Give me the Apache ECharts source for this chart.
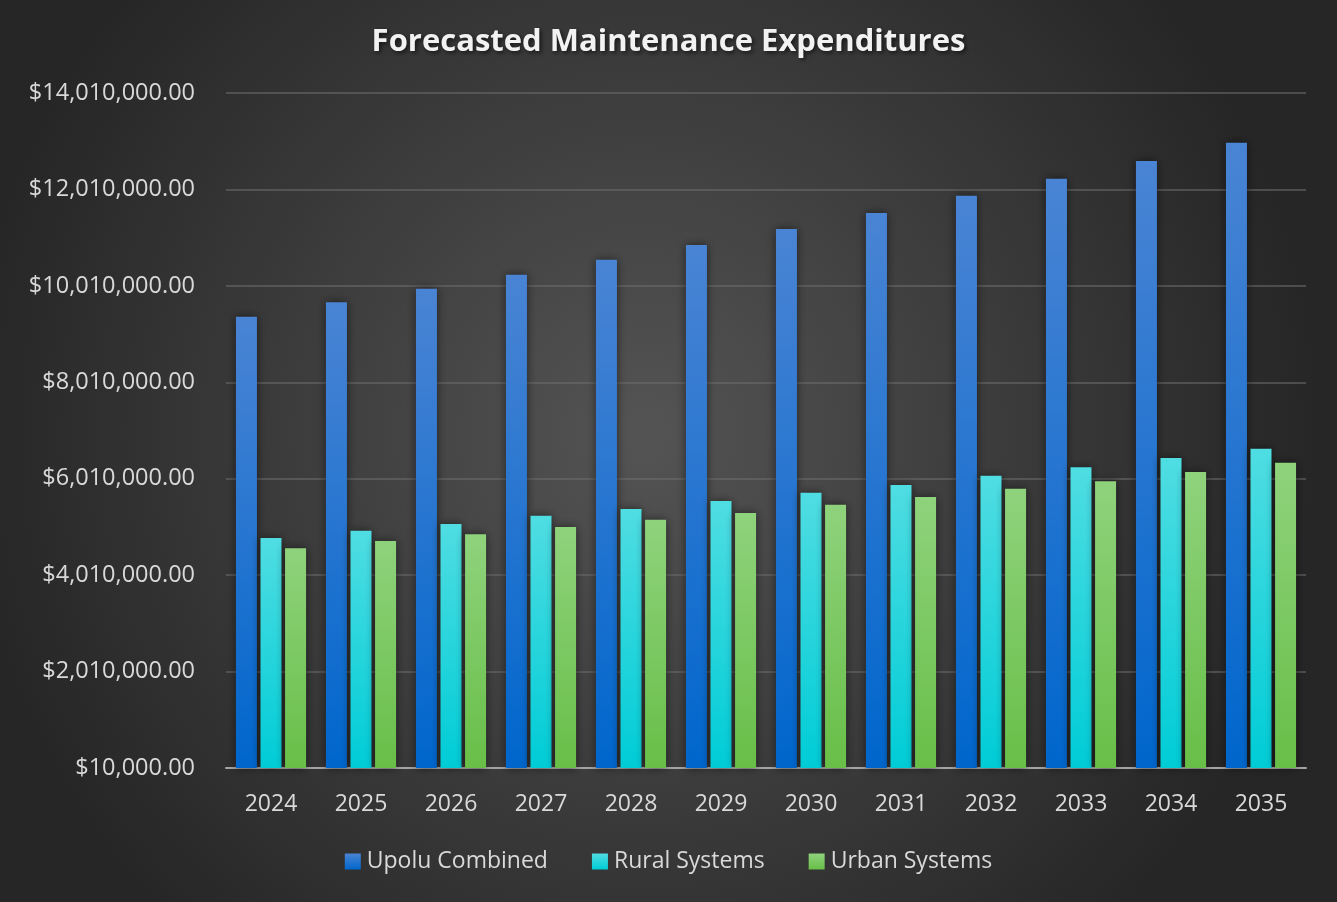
<!DOCTYPE html>
<html>
<head>
<meta charset="utf-8">
<script src="https://cdn.jsdelivr.net/npm/echarts@6/dist/echarts.min.js"></script>
<style>
html,body{margin:0;padding:0;background:#2a2a2a;}
#chart{width:1337px;height:902px;}
</style>
</head>
<body>
<div id="chart"></div>
<script>
const categories = ['2024','2025','2026','2027','2028','2029','2030','2031','2032','2033','2034','2035'];
const upoluCombined = [9370000, 9670000, 9950000, 10240000, 10550000, 10860000, 11190000, 11520000, 11880000, 12230000, 12600000, 12980000];
const ruralSystems = [4780000, 4930000, 5070000, 5240000, 5380000, 5550000, 5720000, 5880000, 6070000, 6250000, 6440000, 6630000];
const urbanSystems = [4570000, 4720000, 4860000, 5010000, 5160000, 5300000, 5470000, 5630000, 5800000, 5960000, 6150000, 6340000];
const seriesNames = ['Upolu Combined', 'Rural Systems', 'Urban Systems'];
const axisMin = 10000, axisMax = 14010000, axisStep = 2000000;

const FONT = '"Open Sans", "Noto Sans", sans-serif';
function grad(top, bottom){
  return new echarts.graphic.LinearGradient(0,0,0,1,[{offset:0,color:top},{offset:1,color:bottom}]);
}
const colors = [grad('#4a84d4','#0066cc'), grad('#4fdde2','#00ccd6'), grad('#8fd27c','#68bf48')];
const dataSets = [upoluCombined, ruralSystems, urbanSystems];

const chart = echarts.init(document.getElementById('chart'), null, {renderer:'canvas'});
chart.setOption({
  backgroundColor: new echarts.graphic.RadialGradient(0.48,0.48,0.75,[{offset:0,color:'#545454'},{offset:1,color:'#262626'}]),
  title: {
    text: 'Forecasted Maintenance Expenditures',
    left: 'center', top: 22,
    textStyle: {color:'#f2f2f2', fontFamily: FONT, fontSize: 31, fontWeight: 'bold',
      textShadowColor:'rgba(0,0,0,0.6)', textShadowBlur:4, textShadowOffsetX:2, textShadowOffsetY:2}
  },
  legend: {
    bottom: 24, left: 'center', itemWidth: 16, itemHeight: 16, itemGap: 44,
    icon: 'rect',
    textStyle: {color:'#d9d9d9', fontFamily: FONT, fontSize: 23, padding:[0,0,0,1]},
    data: seriesNames
  },
  grid: {left: 226, right: 31, top: 93, bottom: 134, containLabel: false},
  xAxis: {
    type: 'category', data: categories,
    axisLine: {lineStyle:{color:'#a6a6a6', width:2}},
    axisTick: {show:false},
    axisLabel: {color:'#d9d9d9', fontFamily: FONT, fontSize: 23, margin: 25}
  },
  yAxis: {
    type: 'value', min: axisMin, max: axisMax, interval: axisStep,
    axisLine: {show:false}, axisTick: {show:false},
    splitLine: {lineStyle:{color:'rgba(110,110,110,0.55)', width:2}},
    axisLabel: {color:'#d9d9d9', fontFamily: FONT, fontSize: 23.5, margin: 31,
      formatter: v => '$' + v.toLocaleString('en-US',{minimumFractionDigits:2, maximumFractionDigits:2})}
  },
  series: seriesNames.map((n,i)=>({
    name: n, type: 'bar', data: dataSets[i],
    barWidth: 21, barGap: '17%',
    itemStyle: {color: colors[i], shadowColor:'rgba(0,0,0,0.55)', shadowBlur: 10, shadowOffsetX: 0, shadowOffsetY: 0}
  }))
});
</script>
</body>
</html>
